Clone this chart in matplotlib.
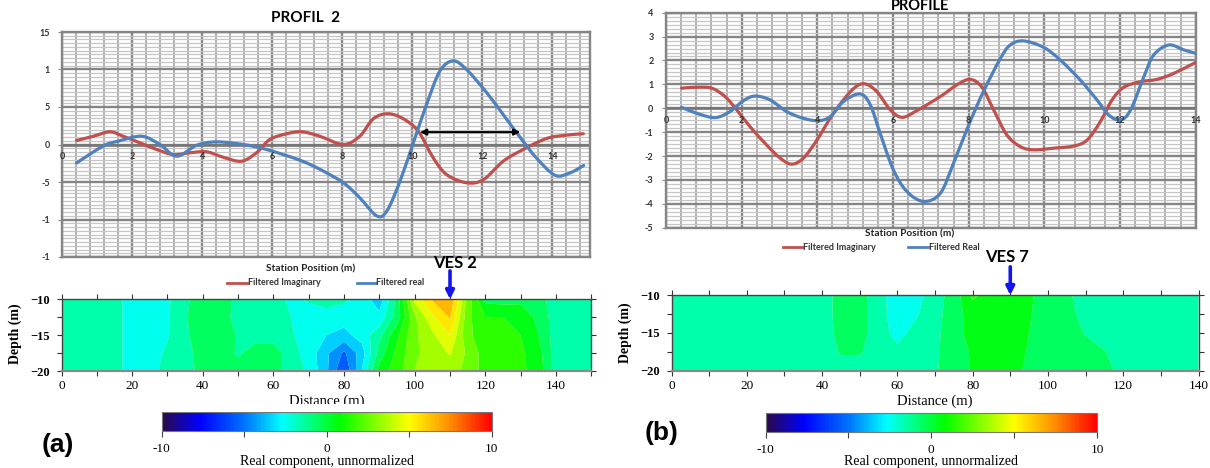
"""Filtered VLF profiles over VES 2 and VES 7 with real-component depth sections."""

import numpy as np
import matplotlib
matplotlib.use("Agg")
import matplotlib.pyplot as plt
from matplotlib.cm import ScalarMappable
from matplotlib.colors import LinearSegmentedColormap, Normalize
from matplotlib.lines import Line2D
from matplotlib.patches import PathPatch, Rectangle
from matplotlib.path import Path
from matplotlib.ticker import MultipleLocator

# ---- profile 2 (station position in m) ----
p2_imag_x = [0.41, 0.89, 1.36, 1.74, 2.22, 2.70, 3.17, 3.65, 4.13, 4.60, 5.12, 5.55,
             5.93, 6.41, 6.84, 7.36, 8.03, 8.50, 8.89, 9.31, 9.74, 10.17, 10.60,
             10.98, 11.55, 12.03, 12.60, 13.17, 13.84, 14.41, 14.89]
p2_imag_y = [0.54, 1.1, 1.7, 1.1, 0.22, -0.67, -1.34, -1.1, -0.98, -1.7, -2.23, -1.1,
             0.67, 1.43, 1.7, 1.1, 0.0, 1.1, 3.44, 4.1, 3.44, 1.78, -1.78,
             -4.0, -5.1, -4.7, -2.23, -0.67, 0.8, 1.25, 1.43]
p2_real_x = [0.41, 1.17, 1.60, 2.27, 2.79, 3.27, 3.84, 4.41, 5.17, 5.74, 6.31, 6.85,
             7.36, 8.03, 8.50, 8.98, 9.27, 9.65, 10.08, 10.41, 10.79, 11.17, 11.55,
             12.13, 12.70, 13.13, 13.55, 14.08, 14.50, 14.90]
p2_real_y = [-2.45, -0.2, 0.45, 1.1, 0.0, -1.56, -0.1, 0.35, 0.0, -0.54, -1.34, -2.2,
             -3.3, -5.1, -7.1, -9.5, -8.9, -4.9, 0.9, 5.35, 9.8, 11.15, 10.0,
             6.9, 3.35, 0.67, -1.8, -4.1, -3.8, -2.8]
p2_span = (10.22, 13.09, 1.65)
p2_yticks = [15, 10, 5, 0, -5, -10, -15]
p2_ylabels = ["15", "1", "5", "0", "-5", "-1", "-1"]

# ---- profile 7 ----
p7_imag_x = [0.41, 0.81, 1.21, 1.56, 1.87, 2.22, 2.66, 3.02, 3.32, 3.63, 3.99, 4.34,
             4.69, 5.00, 5.26, 5.57, 5.93, 6.24, 6.63, 7.25, 7.69, 8.04, 8.35, 8.66,
             9.01, 9.37, 9.72, 10.25, 10.78, 11.13, 11.48, 11.79, 12.10, 12.54,
             12.98, 13.42, 14.0]
p7_imag_y = [0.84, 0.88, 0.84, 0.49, -0.07, -0.77, -1.54, -2.09, -2.34, -2.09, -1.33,
             -0.42, 0.35, 0.88, 1.02, 0.7, -0.07, -0.38, -0.1, 0.49, 0.98, 1.21, 0.88,
             -0.07, -1.12, -1.61, -1.74, -1.67, -1.58, -1.33, -0.56, 0.35, 0.88, 1.11,
             1.21, 1.46, 1.92]
p7_real_x = [0.41, 0.81, 1.30, 1.69, 2.05, 2.35, 2.75, 3.19, 3.63, 4.03, 4.34, 4.69,
             5.13, 5.40, 5.66, 6.01, 6.37, 6.81, 7.25, 7.60, 8.00, 8.39, 8.84, 9.10,
             9.45, 9.98, 10.42, 10.95, 11.39, 11.70, 12.01, 12.28, 12.63, 12.89,
             13.29, 13.69, 14.0]
p7_real_y = [0.04, -0.21, -0.39, -0.14, 0.32, 0.51, 0.35, -0.14, -0.42, -0.52, -0.35,
             0.28, 0.6, 0.14, -1.05, -2.58, -3.49, -3.9, -3.56, -2.3, -0.7, 0.7, 2.09,
             2.65, 2.82, 2.55, 2.02, 1.18, 0.35, -0.28, -0.49, -0.07, 1.32, 2.23, 2.65,
             2.44, 2.3]
p7_yticks = [4, 3, 2, 1, 0, -1, -2, -3, -4, -5]

# ---- depth sections, real component (rows from -10 m down to -20 m) ----
sect_depth = [-10, -12.5, -15, -17.5, -20]

ves2_dist = [0, 5, 10, 15, 20, 25, 30, 35, 40, 45, 50, 55, 60, 65, 70, 75, 80, 85,
             90, 95, 100, 105, 110, 115, 120, 125, 130, 135, 140, 145, 150]
ves2_real = [
    [-1.5, -1.5, -1.5, -1.6, -2.5, -2.5, -2.2, -1.2, -0.4, -0.4, -1.3, -1.5, -1.6,
     -2.2, -1.9, -1.7, -1.8, -2.4, -3.6, -0.7, 4.3, 6.1, 6.9, 2.6, -0.3, -0.4, -0.3,
     -0.6, -1.5, -1.5, -1.5],
    [-1.5, -1.5, -1.5, -1.6, -2.5, -2.5, -2.1, -1.1, -0.4, -0.5, -1.4, -1.5, -1.6,
     -2.0, -2.4, -2.3, -2.6, -2.7, -2.7, -0.5, 2.8, 4.8, 6.1, 2.3, 1.0, 1.0, 0.8,
     -0.3, -1.5, -1.5, -1.5],
    [-1.5, -1.5, -1.5, -1.6, -2.5, -2.5, -2.1, -1.2, -0.4, -0.4, -1.1, -1.4, -1.4,
     -1.9, -2.5, -3.0, -3.3, -2.6, -1.3, 0.8, 2.8, 3.8, 5.0, 2.2, 1.5, 1.2, 1.0,
     0.0, -1.5, -1.5, -1.5],
    [-1.5, -1.5, -1.5, -1.6, -2.5, -2.5, -1.8, -1.4, -0.5, -0.4, -1.15, -0.5, -0.5,
     -1.6, -2.4, -3.8, -5.2, -3.5, -0.6, 1.3, 2.8, 3.5, 4.1, 2.8, 1.5, 1.3, 1.2,
     0.4, -1.5, -1.5, -1.5],
    [-1.5, -1.5, -1.5, -1.6, -2.5, -2.3, -1.7, -1.5, -0.6, -0.4, -0.6, -0.4, -0.7,
     -1.4, -2.2, -3.8, -6.0, -3.0, 0.5, 1.5, 3.0, 3.3, 3.3, 2.8, 1.5, 1.3, 1.2,
     0.6, -1.5, -1.5, -1.5],
]

ves7_dist = [0, 5, 10, 15, 20, 25, 30, 35, 40, 45, 50, 55, 60, 65, 70, 75, 80, 85,
             90, 95, 100, 105, 110, 115, 120, 125, 130, 135, 140]
ves7_real = [
    [-1.5, -1.5, -1.5, -1.5, -1.5, -1.5, -1.5, -1.5, -1.5, -0.6, -0.6, -1.6, -2.6,
     -2.4, -1.4, -0.6, 1.2, 0.5, 0.5, 0.2, -0.6, -0.8, -1.5, -1.5, -1.5, -1.5, -1.5,
     -1.5, -1.5],
    [-1.5, -1.5, -1.5, -1.5, -1.5, -1.5, -1.5, -1.5, -1.5, -0.6, -0.6, -1.6, -2.5,
     -2.1, -1.4, -0.4, 0.4, 0.5, 0.5, 0.1, -0.6, -0.7, -1.3, -1.5, -1.5, -1.5, -1.5,
     -1.5, -1.5],
    [-1.5, -1.5, -1.5, -1.5, -1.5, -1.5, -1.5, -1.5, -1.5, -0.7, -0.6, -1.6, -2.3,
     -1.7, -1.3, -0.3, 0.3, 0.5, 0.5, 0.0, -0.6, -0.6, -1.05, -1.5, -1.5, -1.5, -1.5,
     -1.5, -1.5],
    [-1.5, -1.5, -1.5, -1.5, -1.5, -1.5, -1.5, -1.5, -1.5, -0.9, -0.9, -1.5, -1.8,
     -1.5, -1.2, -0.4, 0.1, 0.5, 0.5, -0.1, -0.6, -0.6, -0.7, -0.95, -1.5, -1.5, -1.5,
     -1.5, -1.5],
    [-1.5, -1.5, -1.5, -1.5, -1.5, -1.5, -1.5, -1.5, -1.5, -1.4, -1.4, -1.5, -1.5,
     -1.5, -1.1, -0.5, 0.1, 0.5, 0.5, -0.3, -0.6, -0.6, -0.6, -0.6, -1.4, -1.5, -1.5,
     -1.5, -1.5],
]
ves2_pos = 110
ves7_pos = 90

# ---- styling ----
W, H = 1210, 468
RED = "#c0504d"
BLUE = "#4f81bd"
VES_BLUE = "#1414f0"
LABEL_FONT = "Lato"
SERIF = "Liberation Serif"

cmap = LinearSegmentedColormap.from_list("rainbow_surfer", [
    (0.0, "#2a0a4a"), (0.115, "#0000ff"), (0.25, "#0073ff"), (0.365, "#00ffff"),
    (0.54, "#00ff00"), (0.75, "#ffff00"), (0.875, "#ff8c00"), (1.0, "#ff0000"),
])
norm = Normalize(-10, 10)

fig = plt.figure(figsize=(W / 100, H / 100), dpi=100)
fig.patch.set_facecolor("white")


def fx(px):
    return px / W


def fy(py):
    return 1 - py / H


def axes_px(x0, y0, x1, y1):
    return fig.add_axes([fx(x0), fy(y1), (x1 - x0) / W, (y1 - y0) / H])


def smooth_line(ax, xs, ys, color):
    # Excel-style smoothed line: cubic Bezier through every point
    pts = np.column_stack([xs, ys]).astype(float)
    n = len(pts)
    verts, codes = [pts[0]], [Path.MOVETO]
    for i in range(n - 1):
        p0, p1 = pts[max(i - 1, 0)], pts[i]
        p2, p3 = pts[i + 1], pts[min(i + 2, n - 1)]
        verts += [p1 + (p2 - p0) / 6, p2 - (p3 - p1) / 6, p2]
        codes += [Path.CURVE4] * 3
    ax.add_patch(PathPatch(Path(verts, codes), fill=False, edgecolor=color,
                           lw=2.3, capstyle="round", joinstyle="round", zorder=4))


def profile_axes(box, xmax, ylim, yticks, ylabels, yminor, xlab_off):
    ax = axes_px(*box)
    ax.set_xlim(0, xmax)
    ax.set_ylim(*ylim)
    ax.xaxis.set_major_locator(MultipleLocator(2))
    ax.xaxis.set_minor_locator(MultipleLocator(0.4))
    ax.set_yticks(yticks, ylabels)
    ax.yaxis.set_minor_locator(MultipleLocator(yminor))
    ax.set_axisbelow(True)
    ax.xaxis.grid(True, which="major", color="#858585", lw=1.7)
    ax.xaxis.grid(True, which="minor", color="#b0b0b0", lw=1.4)
    ax.yaxis.grid(True, which="major", color="#858585", lw=1.7)
    ax.yaxis.grid(True, which="minor", color="#c6c6c6", lw=0.9)
    ax.axhline(0, color="#767676", lw=1.9, zorder=1)
    ax.tick_params(axis="x", which="both", length=0, labelbottom=False)
    ax.tick_params(axis="y", which="minor", length=0)
    ax.tick_params(axis="y", which="major", length=3, color="#8a8a8a", pad=6,
                   labelsize=6.5, labelcolor="#333333")
    for lbl in ax.get_yticklabels():
        lbl.set_fontfamily(LABEL_FONT)
        lbl.set_fontweight("bold")
    for s in ax.spines.values():
        s.set_color("#858585")
        s.set_linewidth(1.7)
    for v in range(0, 15, 2):
        ax.annotate(str(v), (v, 0), xytext=(0, -xlab_off), textcoords="offset points",
                    ha="center", va="center", fontsize=6.5, fontweight="bold",
                    family=LABEL_FONT, color="#333333", zorder=5)
    return ax


def section_axes(box, dist, values, xmax, ves_pos):
    ax = axes_px(*box)
    X, Y = np.meshgrid(dist, sect_depth)
    ax.contourf(X, Y, np.array(values), levels=np.arange(-10, 11, 1),
                cmap=cmap, norm=norm, antialiased=True)
    ax.set_xlim(0, xmax)
    ax.set_ylim(-20, -10)
    ax.set_xticks(range(0, 141, 20))
    ax.xaxis.set_minor_locator(MultipleLocator(10))
    ax.set_yticks([-10, -15, -20])
    ax.yaxis.set_minor_locator(MultipleLocator(2.5))
    ax.tick_params(which="both", direction="out", top=True, right=True,
                   length=3.5, width=0.8, color="#333333")
    ax.tick_params(axis="x", pad=3, labelsize=9.5)
    ax.tick_params(axis="y", pad=4.5, labelsize=9)
    for lbl in ax.get_xticklabels():
        lbl.set_fontfamily(SERIF)
    for lbl in ax.get_yticklabels():
        lbl.set_fontfamily(SERIF)
        lbl.set_fontweight("bold")
    for s in ax.spines.values():
        s.set_color("#444444")
        s.set_linewidth(1.0)
    ax.spines["bottom"].set_color("#8a8a8a")
    ax.spines["bottom"].set_linewidth(1.6)
    ax.annotate("", xy=(ves_pos, -10), xytext=(0, 20.5), textcoords="offset points",
                annotation_clip=False,
                arrowprops=dict(arrowstyle="-|>", color=VES_BLUE, lw=2.6,
                                mutation_scale=12, shrinkA=0, shrinkB=0))
    return ax


def colorbar(box, label_y):
    cax = axes_px(*box)
    cb = fig.colorbar(ScalarMappable(norm=norm, cmap=cmap), cax=cax,
                      orientation="horizontal")
    cb.set_ticks([-10, -5, 0, 5, 10], labels=["-10", "", "0", "", "10"])
    cb.ax.tick_params(direction="out", length=4, width=0.8, color="#444444",
                      pad=4.5, labelsize=9.5)
    for lbl in cb.ax.get_xticklabels():
        lbl.set_fontfamily(SERIF)
    cb.outline.set_edgecolor("#777777")
    cb.outline.set_linewidth(0.8)
    cx = (box[0] + box[2]) / 2
    fig.text(fx(cx), fy(label_y), "Real component, unnormalized", ha="center",
             va="center", fontsize=10, family=SERIF)


def legend(items, y):
    for x0, x1, color, text in items:
        fig.add_artist(Line2D([fx(x0), fx(x1)], [fy(y), fy(y)], color=color, lw=2))
        fig.text(fx(x1 + 1), fy(y), text, ha="left", va="center", fontsize=6.5,
                 fontweight="bold", family=LABEL_FONT, color="#333333")


# ---- (a) profile 2 ----
ax_a = profile_axes((62.3, 32, 590, 257), 15.08, (-15, 15), p2_yticks, p2_ylabels,
                    0.5, 8.4)
smooth_line(ax_a, p2_imag_x, p2_imag_y, RED)
smooth_line(ax_a, p2_real_x, p2_real_y, BLUE)
ax_a.annotate("", xy=(p2_span[0], p2_span[2]), xytext=(p2_span[1], p2_span[2]),
              arrowprops=dict(arrowstyle="<|-|>", color="black", lw=1.5,
                              mutation_scale=9, shrinkA=0, shrinkB=0), zorder=6)
fig.text(fx(306), fy(18), "PROFIL  2", ha="center", va="center", fontsize=11,
         fontweight="bold", family=LABEL_FONT)
fig.text(fx(311), fy(269), "Station Position (m)", ha="center", va="center",
         fontsize=7.3, fontweight="bold", family=LABEL_FONT, color="#222222")
legend([(226.7, 246.7, RED, "Filtered Imaginary"),
        (356.7, 375.5, BLUE, "Filtered real")], 282.7)

# ---- (b) profile 7 ----
ax_b = profile_axes((666, 12.7, 1195.7, 227.7), 14, (-5, 4), p7_yticks,
                    [str(v) for v in p7_yticks], 1 / 6, 8.9)
smooth_line(ax_b, p7_imag_x, p7_imag_y, RED)
smooth_line(ax_b, p7_real_x, p7_real_y, BLUE)
fig.text(fx(920), fy(6), "PROFILE", ha="center", va="center", fontsize=10.5,
         fontweight="bold", family=LABEL_FONT)
fig.text(fx(910), fy(234), "Station Position (m)", ha="center", va="center",
         fontsize=7.3, fontweight="bold", family=LABEL_FONT, color="#222222")
legend([(782.7, 801.7, RED, "Filtered Imaginary"),
        (908, 928, BLUE, "Filtered Real")], 247.3)

# ---- depth sections ----
sec_a = section_axes((61.5, 299.3, 591.3, 371), ves2_dist, ves2_real, 150, ves2_pos)
sec_b = section_axes((671.5, 295.3, 1198.5, 370.5), ves7_dist, ves7_real, 140, ves7_pos)

for cx, text, ty in [(455, "VES 2", 263), (1007, "VES 7", 256.7)]:
    fig.text(fx(cx), fy(ty), text, ha="center", va="center", fontsize=12,
             fontweight="bold", family=LABEL_FONT)
for cx, ty in [(326.4, 401), (935, 401)]:
    fig.text(fx(cx), fy(ty), "Distance (m)", ha="center", va="center",
             fontsize=10.5, family=SERIF)
for cx, ty in [(15, 334), (625, 333)]:
    fig.text(fx(cx), fy(ty), "Depth (m)", ha="center", va="center", rotation=90,
             fontsize=10, fontweight="bold", family=SERIF)

# the colour bar under (a) sits on a white strip that hides the lower part of its axis title
fig.add_artist(Rectangle((fx(150), fy(411.7)), 360 / W, 8.2 / H, facecolor="white",
                         edgecolor="none", zorder=4))

colorbar((161.7, 411.7, 491.7, 431), 461.7)
colorbar((765.5, 412.7, 1097, 431.7), 461)

fig.text(fx(58), fy(445), "(a)", ha="center", va="center", fontsize=19,
         fontweight="bold", family="Liberation Sans")
fig.text(fx(662), fy(433), "(b)", ha="center", va="center", fontsize=19,
         fontweight="bold", family="Liberation Sans")

fig.savefig("out.png", dpi=100, facecolor="white")
